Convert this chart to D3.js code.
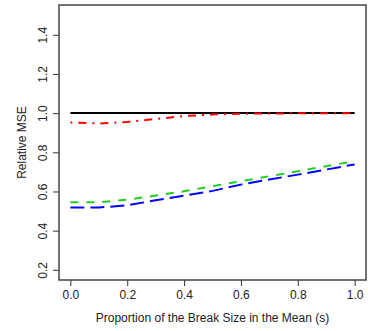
<!DOCTYPE html>
<html><head><meta charset="utf-8">
<script src="https://cdn.jsdelivr.net/npm/d3@7"></script>
<style>body{margin:0;background:#fff}svg{display:block}text{font-family:"Liberation Sans",Arial,sans-serif;fill:#222}</style>
</head><body>
<script>
const xs = [0.0,0.1,0.2,0.3,0.4,0.5,0.6,0.7,0.8,0.9,1.0];
const black = [1,1,1,1,1,1,1,1,1,1,1];
const red = [0.952,0.947,0.955,0.970,0.985,0.993,0.997,0.998,0.999,0.999,1.0];
const green = [0.545,0.545,0.558,0.579,0.601,0.627,0.652,0.678,0.703,0.729,0.755];
const blue = [0.518,0.518,0.529,0.555,0.579,0.603,0.635,0.661,0.686,0.712,0.738];
const xTicks = [0,0.2,0.4,0.6,0.8,1.0];
const yTicks = [0.2,0.4,0.6,0.8,1.0,1.2,1.4];

const W=368,H=331;
const L=59,T=5,R=366,B=280;
const svg=d3.select("body").append("svg").attr("width",W).attr("height",H);
const x=d3.scaleLinear().domain([-0.04,1.04]).range([L,R]);
const y=d3.scaleLinear().domain([0.148,1.552]).range([B,T]);

const xa=svg.append("g").attr("transform",`translate(0,${B})`)
 .call(d3.axisBottom(x).tickValues(xTicks).tickFormat(d3.format(".1f")).tickSize(6).tickPadding(4));
xa.select(".domain").remove();
xa.selectAll("line").attr("stroke","#333");
xa.selectAll("text").attr("font-size",12).style("fill","#222");
const ya=svg.append("g").attr("transform",`translate(${L},0)`)
 .call(d3.axisLeft(y).tickValues(yTicks).tickFormat(d3.format(".1f")).tickSize(6).tickPadding(4));
ya.select(".domain").remove();
ya.selectAll("line").attr("stroke","#333");
ya.selectAll("text").attr("font-size",12).style("fill","#222")
 .attr("text-anchor","middle").attr("dy",null)
 .attr("transform",d=>`translate(-12,0) rotate(-90)`).attr("x",0).attr("y",0);

svg.append("rect").attr("x",L).attr("y",T).attr("width",R-L).attr("height",B-T)
 .attr("fill","none").attr("stroke","#444").attr("stroke-width",1.5);

const line=vals=>d3.line().x((d,i)=>x(xs[i])).y(d=>y(d))(vals);
const series=[
 {v:black,c:"#000",dash:null},
 {v:red,c:"#ff0000",dash:"2,6,8,6"},
 {v:green,c:"#22cc22",dash:"8,8"},
 {v:blue,c:"#0000ff",dash:"14,6"}
];
series.forEach(s=>{
 svg.append("path").attr("d",line(s.v)).attr("fill","none").attr("stroke",s.c)
  .attr("stroke-width",2).attr("stroke-dasharray",s.dash);
});

svg.append("text").attr("x",(L+R)/2).attr("y",322).attr("text-anchor","middle")
 .attr("font-size",12).text("Proportion of the Break Size in the Mean (s)");
svg.append("text").attr("transform",`translate(26,${(T+B)/2}) rotate(-90)`).attr("text-anchor","middle")
 .attr("font-size",12).text("Relative MSE");
</script>
</body></html>
